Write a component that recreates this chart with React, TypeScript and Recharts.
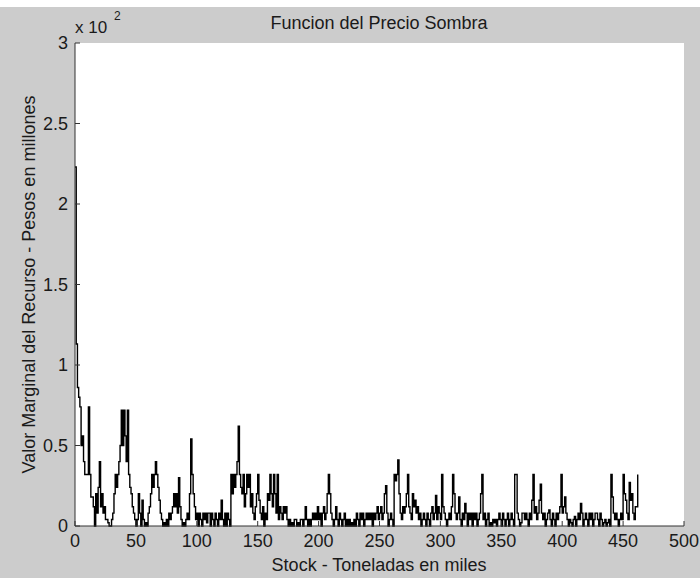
import { LineChart, Line, XAxis, YAxis, CartesianGrid } from 'recharts';

// shadow price (x 10^2 pesos) per thousand tonnes of stock
const stock0to49 = [
  223, 113, 86, 80, 74, 50, 56, 40, 32, 32, 32, 74, 32, 18, 18, 12, 0, 20, 8, 24,
  40, 12, 20, 8, 12, 4, 4, 2, 0, 0, 4, 8, 20, 32, 24, 32, 40, 50, 72, 50,
  72, 56, 40, 72, 32, 24, 20, 12, 8, 4,
];
const stock50to99 = [
  0, 4, 20, 8, 0, 16, 4, 0, 2, 0, 8, 12, 20, 32, 24, 32, 40, 32, 24, 16,
  8, 4, 0, 2, 0, 4, 0, 8, 4, 8, 12, 20, 12, 20, 8, 30, 12, 4, 0, 2,
  0, 4, 8, 4, 20, 54, 32, 20, 12, 4,
];
const stock100to149 = [
  8, 0, 8, 4, 0, 8, 4, 8, 2, 8, 8, 0, 8, 4, 0, 8, 4, 0, 8, 4,
  16, 4, 0, 8, 0, 8, 4, 0, 32, 20, 32, 24, 32, 40, 62, 32, 24, 20, 32, 12,
  20, 32, 24, 32, 12, 20, 8, 4, 12, 20,
];
const stock150to199 = [
  32, 16, 8, 4, 12, 0, 8, 4, 20, 16, 32, 20, 12, 32, 20, 8, 32, 4, 12, 8,
  4, 12, 8, 12, 4, 0, 4, 0, 2, 0, 4, 4, 0, 2, 0, 4, 4, 0, 4, 12,
  4, 0, 4, 0, 4, 8, 4, 8, 4, 12,
];
const stock200to249 = [
  4, 8, 0, 8, 12, 4, 8, 20, 32, 20, 8, 4, 0, 4, 12, 4, 0, 8, 4, 0,
  4, 8, 0, 4, 0, 4, 0, 2, 0, 4, 0, 8, 4, 0, 8, 4, 8, 0, 4, 8,
  4, 8, 4, 8, 0, 8, 4, 8, 12, 4,
];
const stock250to299 = [
  8, 12, 4, 8, 20, 25, 8, 0, 4, 8, 4, 0, 32, 28, 32, 41, 20, 8, 4, 12,
  8, 12, 20, 32, 12, 8, 4, 20, 12, 16, 8, 12, 4, 8, 0, 4, 8, 4, 0, 8,
  4, 0, 8, 12, 4, 8, 19, 4, 12, 8,
];
const stock300to349 = [
  4, 32, 12, 8, 4, 0, 4, 8, 4, 12, 32, 20, 8, 4, 8, 18, 4, 0, 8, 4,
  14, 8, 0, 8, 4, 8, 0, 8, 4, 8, 0, 4, 8, 20, 32, 4, 8, 0, 4, 8,
  0, 2, 0, 4, 2, 4, 0, 4, 8, 4,
];
const stock350to399 = [
  0, 8, 4, 0, 4, 8, 0, 4, 8, 4, 0, 32, 32, 8, 4, 0, 2, 8, 8, 4,
  8, 4, 0, 8, 4, 16, 32, 8, 12, 4, 8, 16, 26, 8, 4, 8, 0, 4, 8, 10,
  4, 0, 8, 4, 0, 8, 4, 8, 12, 32,
];
const stock400to462 = [
  8, 12, 18, 8, 4, 0, 4, 2, 0, 4, 6, 0, 4, 8, 4, 14, 8, 0, 4, 8,
  4, 0, 8, 4, 8, 0, 4, 8, 8, 4, 0, 8, 4, 0, 2, 4, 0, 2, 4, 0,
  32, 18, 8, 4, 8, 4, 0, 4, 8, 4, 32, 20, 16, 8, 4, 27, 16, 20, 8, 4,
  12, 12, 32,
];

const xTicks = [0, 50, 100, 150, 200, 250, 300, 350, 400, 450, 500];
const yTicks = [0, 50, 100, 150, 200, 250, 300];

const shadowPrice = [
  ...stock0to49, ...stock50to99, ...stock100to149, ...stock150to199, ...stock200to249,
  ...stock250to299, ...stock300to349, ...stock350to399, ...stock400to462,
];
const data = shadowPrice.map((v, i) => ({ stock: i, price: v }));

const FONT = '"Liberation Sans", Arial, sans-serif';
const INK = '#1a1a1a';
const FRAME = '#333333';

function BottomTick(props: any) {
  const { x, y, payload } = props;
  return (
    <g>
      <line x1={x} y1={y} x2={x} y2={y - 5} stroke={FRAME} />
      <text x={x} y={y + 21} textAnchor="middle" fontSize={18} fontFamily={FONT} fill={INK}>
        {payload.value}
      </text>
    </g>
  );
}

function LeftTick(props: any) {
  const { x, y, payload } = props;
  return (
    <g>
      <line x1={x} y1={y} x2={x + 5} y2={y} stroke={FRAME} />
      <text x={x - 7} y={y + 6} textAnchor="end" fontSize={18} fontFamily={FONT} fill={INK}>
        {payload.value / 100}
      </text>
    </g>
  );
}

function TopTick(props: any) {
  const { x, y } = props;
  return <line x1={x} y1={y} x2={x} y2={y + 5} stroke={FRAME} />;
}

function RightTick(props: any) {
  const { x, y } = props;
  return <line x1={x} y1={y} x2={x - 5} y2={y} stroke={FRAME} />;
}

export default function App() {
  return (
    <div style={{ position: 'absolute', left: 0, top: 0, width: 700, height: 578, background: '#cccccc' }}>
      <div style={{ position: 'absolute', left: 0, top: 0, width: 700, height: 7, background: '#ffffff' }} />
      <LineChart width={700} height={578} data={data} margin={{ top: 43, right: 16, left: 0, bottom: 0 }}>
        <CartesianGrid horizontal={false} vertical={false} fill="#ffffff" />
        <XAxis
          dataKey="stock"
          type="number"
          domain={[0, 500]}
          ticks={xTicks}
          height={52}
          tickSize={0}
          tickMargin={0}
          tickLine={false}
          axisLine={{ stroke: FRAME }}
          tick={<BottomTick />}
          interval={0}
        />
        <XAxis
          xAxisId="top"
          orientation="top"
          dataKey="stock"
          type="number"
          domain={[0, 500]}
          ticks={xTicks}
          height={0}
          tickSize={0}
          tickMargin={0}
          tickLine={false}
          axisLine={{ stroke: FRAME }}
          tick={<TopTick />}
          interval={0}
        />
        <YAxis
          type="number"
          domain={[0, 300]}
          ticks={yTicks}
          width={75}
          tickSize={0}
          tickMargin={0}
          tickLine={false}
          axisLine={{ stroke: FRAME }}
          tick={<LeftTick />}
          interval={0}
        />
        <YAxis
          yAxisId="right"
          orientation="right"
          type="number"
          domain={[0, 300]}
          ticks={yTicks}
          width={0}
          tickSize={0}
          tickMargin={0}
          tickLine={false}
          axisLine={{ stroke: FRAME }}
          tick={<RightTick />}
          interval={0}
        />
        <Line
          type="stepAfter"
          dataKey="price"
          stroke="#000000"
          strokeWidth={1.4}
          dot={false}
          activeDot={false}
          isAnimationActive={false}
        />
        <Line
          xAxisId="top"
          yAxisId="right"
          type="stepAfter"
          dataKey="price"
          stroke="none"
          dot={false}
          activeDot={false}
          isAnimationActive={false}
        />
      </LineChart>
      <svg width={700} height={578} style={{ position: 'absolute', left: 0, top: 0, pointerEvents: 'none' }}>
        <text x={379} y={29} textAnchor="middle" fontSize={18} fontFamily={FONT} fill={INK}>
          Funcion del Precio Sombra
        </text>
        <text x={379} y={571} textAnchor="middle" fontSize={18} fontFamily={FONT} fill={INK}>
          Stock - Toneladas en miles
        </text>
        <text
          x={0}
          y={0}
          transform="translate(35, 284.5) rotate(-90)"
          textAnchor="middle"
          fontSize={18}
          fontFamily={FONT}
          fill={INK}
        >
          Valor Marginal del Recurso - Pesos en millones
        </text>
        <text x={75} y={33} fontSize={17} fontFamily={FONT} fill={INK}>
          x 10
        </text>
        <text x={114} y={20} fontSize={12} fontFamily={FONT} fill={INK}>
          2
        </text>
      </svg>
    </div>
  );
}
